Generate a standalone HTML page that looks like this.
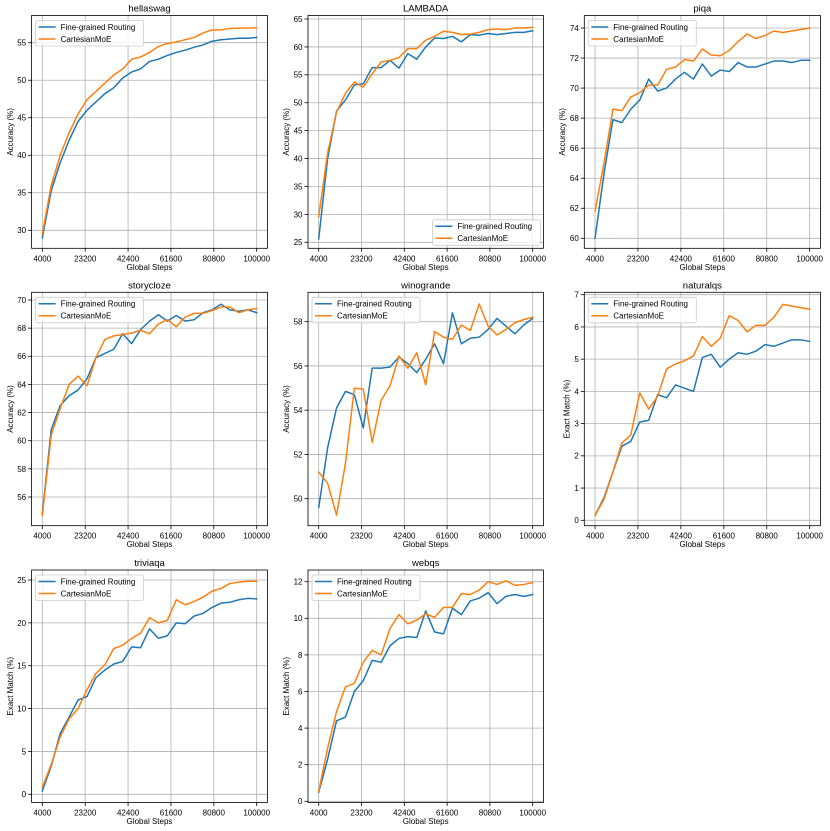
<!DOCTYPE html>
<html><head><meta charset="utf-8"><style>
html,body{margin:0;padding:0;background:#fff;}
svg{display:block;font-family:"Liberation Sans","DejaVu Sans",sans-serif;}
</style></head><body>
<svg id="fig" width="830" height="831" viewBox="0 0 830 831" xmlns="http://www.w3.org/2000/svg"></svg>
<script>
const steps = [4000,8000,12000,16000,20000,24000,28000,32000,36000,40000,44000,48000,52000,56000,60000,64000,68000,72000,76000,80000,84000,88000,92000,96000,100000];
const xTicks = [4000,23200,42400,61600,80800,100000];
const seriesNames = ["Fine-grained Routing","CartesianMoE"];

const hellaswagBlue = [29,35.3,39,42,44.5,46,47.1,48.2,49,50.3,51.1,51.5,52.5,52.8,53.3,53.7,54.0,54.4,54.7,55.2,55.4,55.5,55.6,55.6,55.7];
const hellaswagOrange = [29.5,36,40,43,45.5,47.4,48.5,49.6,50.7,51.5,52.8,53.1,53.7,54.5,54.9,55.1,55.4,55.7,56.3,56.7,56.7,56.9,56.95,56.95,57.0];
const hellaswagTicks = [30,35,40,45,50,55];

const lambadaBlue = [25.6,40,48.5,50.5,53.2,53.4,56.3,56.3,57.6,56.2,58.8,57.8,60,61.6,61.5,61.9,60.9,62.2,62.1,62.4,62.2,62.4,62.6,62.6,62.9];
const lambadaOrange = [29.6,41,48.3,51.7,53.7,52.8,55.2,57.3,57.6,58.1,59.7,59.7,61.2,61.9,62.8,62.6,62.2,62.3,62.6,63.1,63.2,63.1,63.4,63.4,63.5];
const lambadaTicks = [25,30,35,40,45,50,55,60,65];

const piqaBlue = [60,64.3,67.9,67.7,68.6,69.2,70.6,69.8,70.0,70.6,71.05,70.6,71.6,70.8,71.2,71.1,71.7,71.4,71.4,71.6,71.8,71.8,71.7,71.85,71.85];
const piqaOrange = [61.8,65,68.6,68.5,69.4,69.7,70.2,70.2,71.25,71.4,71.9,71.8,72.6,72.2,72.15,72.5,73.1,73.6,73.3,73.5,73.8,73.7,73.8,73.9,74.0];
const piqaTicks = [60,62,64,66,68,70,72,74];

const storyclozeBlue = [54.8,60.8,62.5,63.2,63.6,64.4,65.9,66.2,66.5,67.6,66.9,67.9,68.5,68.95,68.5,68.9,68.5,68.6,69.1,69.3,69.7,69.3,69.2,69.3,69.1];
const storyclozeOrange = [54.7,60.4,62.3,64.0,64.6,63.9,65.9,67.2,67.45,67.55,67.65,67.85,67.6,68.3,68.6,68.1,68.8,69.05,69.05,69.25,69.5,69.5,69.1,69.3,69.4];
const storyclozeTicks = [56,58,60,62,64,66,68,70];

const winograndeBlue = [49.6,52.3,54.1,54.85,54.7,53.2,55.9,55.9,55.95,56.4,56.1,55.7,56.3,57.0,56.1,58.4,57.0,57.25,57.3,57.65,58.15,57.8,57.45,57.85,58.15];
const winograndeOrange = [51.2,50.7,49.25,51.6,55.0,54.95,52.55,54.45,55.1,56.45,55.9,56.6,55.15,57.55,57.3,57.2,57.85,57.6,58.8,57.8,57.4,57.65,57.95,58.1,58.2];
const winograndeTicks = [50,52,54,56,58];

const naturalqsBlue = [0.15,0.7,1.5,2.3,2.45,3.05,3.1,3.9,3.8,4.2,4.1,4.0,5.05,5.15,4.75,5.0,5.2,5.15,5.25,5.45,5.4,5.5,5.6,5.6,5.55];
const naturalqsOrange = [0.15,0.65,1.5,2.4,2.65,3.95,3.45,3.85,4.7,4.85,4.95,5.1,5.7,5.4,5.65,6.35,6.2,5.85,6.05,6.05,6.3,6.7,6.65,6.6,6.55];
const naturalqsTicks = [0,1,2,3,4,5,6,7];

const triviaqaBlue = [0.4,3.3,7.1,9.0,11.0,11.4,13.6,14.5,15.2,15.5,17.2,17.1,19.3,18.2,18.5,20.0,19.9,20.8,21.1,21.8,22.3,22.4,22.7,22.85,22.8];
const triviaqaOrange = [0.8,3.5,6.7,8.8,10.0,12.2,14.1,15.1,17.0,17.4,18.2,18.8,20.6,20.0,20.3,22.7,22.1,22.5,23.0,23.7,24.0,24.6,24.75,24.85,24.85];
const triviaqaTicks = [0,5,10,15,20,25];

const webqsBlue = [0.5,2.3,4.4,4.6,6.0,6.6,7.7,7.6,8.5,8.9,9.0,8.95,10.4,9.25,9.15,10.55,10.2,10.95,11.1,11.4,10.8,11.2,11.3,11.2,11.3];
const webqsOrange = [0.55,2.9,4.9,6.25,6.45,7.6,8.25,8.0,9.45,10.2,9.7,9.9,10.25,10.05,10.6,10.6,11.35,11.3,11.55,12.0,11.85,12.05,11.8,11.85,11.95];
const webqsTicks = [0,2,4,6,8,10,12];

const NS = "http://www.w3.org/2000/svg";
const fig = document.getElementById("fig");
function mk(tag, attrs, parent, text){
  const e = document.createElementNS(NS, tag);
  for (const k in attrs) e.setAttribute(k, attrs[k]);
  if (text !== undefined) e.textContent = text;
  parent.appendChild(e);
  return e;
}
const cols = [[31.6,267.4],[308,543.4],[584.3,820.4]];
const rows = [[15.5,248.3],[292.3,525.7],[570,802.5]];

const plots = [
 {name:"hellaswag", c:0, r:0, blue:hellaswagBlue, orange:hellaswagOrange, ticks:hellaswagTicks, ylab:"Accuracy (%)", y:[30,230.3,55,42.7], leg:"ul", yoff:21.6},
 {name:"LAMBADA", c:1, r:0, blue:lambadaBlue, orange:lambadaOrange, ticks:lambadaTicks, ylab:"Accuracy (%)", y:[25,242.3,65,19], leg:"lr", yoff:21.6},
 {name:"piqa", c:2, r:0, blue:piqaBlue, orange:piqaOrange, ticks:piqaTicks, ylab:"Accuracy (%)", y:[60,238.3,74,28], leg:"ul", yoff:22},
 {name:"storycloze", c:0, r:1, blue:storyclozeBlue, orange:storyclozeOrange, ticks:storyclozeTicks, ylab:"Accuracy (%)", y:[56,497,70,300], leg:"ul", yoff:21.6},
 {name:"winogrande", c:1, r:1, blue:winograndeBlue, orange:winograndeOrange, ticks:winograndeTicks, ylab:"Accuracy (%)", y:[50,498.7,58,321.7], leg:"ul", yoff:21.6},
 {name:"naturalqs", c:2, r:1, blue:naturalqsBlue, orange:naturalqsOrange, ticks:naturalqsTicks, ylab:"Exact Match (%)", y:[0,520.3,7,294.7], leg:"ul", yoff:17.6},
 {name:"triviaqa", c:0, r:2, blue:triviaqaBlue, orange:triviaqaOrange, ticks:triviaqaTicks, ylab:"Exact Match (%)", y:[0,794.3,25,580], leg:"ul", yoff:21.6},
 {name:"webqs", c:1, r:2, blue:webqsBlue, orange:webqsOrange, ticks:webqsTicks, ylab:"Exact Match (%)", y:[0,801.3,12,581.7], leg:"ul", yoff:21.6}
];
const BLUE = "#1f77b4", ORANGE = "#ff7f0e";

plots.forEach(p => {
  const [L,R] = cols[p.c], [T,B] = rows[p.r];
  const g = mk("g", {}, fig);
  
  
  const m = (R - L) / 1.1;
  const xs = v => L + 0.05*m + (v - 4000) / 96000 * m;
  const ys = v => p.y[1] + (v - p.y[0]) / (p.y[2] - p.y[0]) * (p.y[3] - p.y[1]);
  // grid
  xTicks.forEach(t => {
    const gl = mk("line", {x1:xs(t), x2:xs(t), y1:T, y2:B, stroke:"#b0b0b0", "stroke-width":0.8}, g);
    
    
    mk("line", {x1:xs(t), x2:xs(t), y1:B, y2:B+3.5, stroke:"#000", "stroke-width":0.8}, g);
    const tl = mk("text", {x:xs(t), y:B+13, "font-size":8, "text-anchor":"middle", fill:"#000"}, g, String(t));
    
    
  });
  p.ticks.forEach(t => {
    const gl = mk("line", {x1:L, x2:R, y1:ys(t), y2:ys(t), stroke:"#b0b0b0", "stroke-width":0.8}, g);
    
    
    mk("line", {x1:L-3.5, x2:L, y1:ys(t), y2:ys(t), stroke:"#000", "stroke-width":0.8}, g);
    const tl = mk("text", {x:L-5.5, y:ys(t)+2.9, "font-size":8, "text-anchor":"end", fill:"#000"}, g, String(t));
    
    
  });
  // series
  [[p.blue, BLUE, 0],[p.orange, ORANGE, 1]].forEach(([vals, col, i]) => {
    const d = vals.map((v,k) => (k?"L":"M") + xs(steps[k]).toFixed(2) + "," + ys(v).toFixed(2)).join("");
    const path = mk("path", {d:d, fill:"none", stroke:col, "stroke-width":1.5, "stroke-linejoin":"round", "stroke-linecap":"square"}, g);
    
    
  });
  // frame
  const fr = mk("rect", {x:L, y:T, width:R-L, height:B-T, fill:"none", stroke:"#000", "stroke-width":0.8}, g);
  
  
  const ti = mk("text", {x:(L+R)/2, y:T-4, "font-size":9.5, "text-anchor":"middle", fill:"#000"}, g, p.name);
  
  
  const xl = mk("text", {x:(L+R)/2, y:B+21.5, "font-size":8, "text-anchor":"middle", fill:"#000"}, g, "Global Steps");
  
  
  const yx = L - p.yoff, yy = (T+B)/2;
  const yl = mk("text", {x:yx, y:yy, "font-size":8, "text-anchor":"middle", fill:"#000", transform:`rotate(-90 ${yx} ${yy}) translate(0 2.8)`}, g, p.ylab);
  
  
  // legend
  const lw = 108, lh = 25.5;
  const lx = p.leg === "ul" ? L + 4 : R - 3 - lw;
  const ly = p.leg === "ul" ? T + 5 : B - 3 - lh;
  const lg = mk("g", {}, g);
  
  
  mk("rect", {x:lx, y:ly, width:lw, height:lh, rx:2, fill:"#fff", "fill-opacity":0.8, stroke:"#ccc", "stroke-width":0.8}, lg);
  seriesNames.forEach((n,i) => {
    const e = mk("g", {}, lg);
    
    
    const yy2 = ly + 6.5 + i*12;
    mk("line", {x1:lx+3, x2:lx+20, y1:yy2, y2:yy2, stroke:i?ORANGE:BLUE, "stroke-width":1.5}, e);
    mk("text", {x:lx+25, y:yy2+2.9, "font-size":8, fill:"#000"}, e, n);
  });
});
</script>
</body></html>
